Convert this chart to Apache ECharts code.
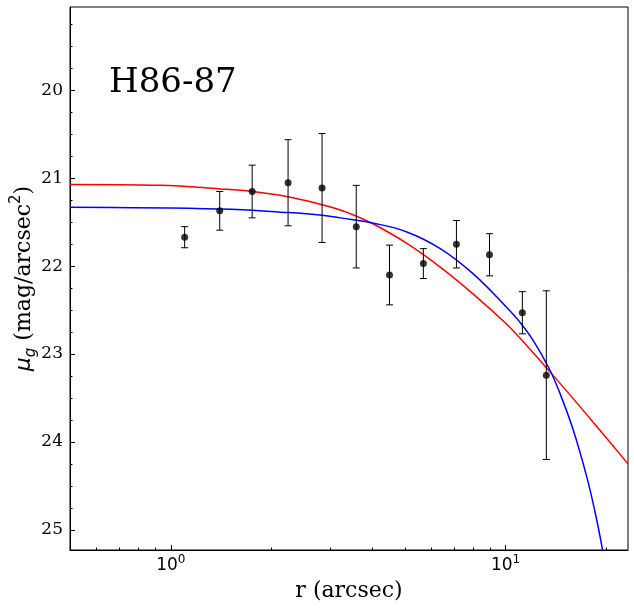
<!DOCTYPE html>
<html>
<head>
<meta charset="utf-8">
<script src="https://cdn.jsdelivr.net/npm/echarts@6/dist/echarts.min.js"></script>
<style>
  html, body { margin: 0; padding: 0; background: #fff; }
  #chart { width: 634px; height: 608px; }
</style>
</head>
<body>
<div id="chart"></div>
<script>
// measured profile points
var radius = [1.10, 1.40, 1.75, 2.24, 2.83, 3.58, 4.50, 5.68, 7.13, 8.95, 11.22, 13.23];
var mu = [21.67, 21.37, 21.15, 21.05, 21.11, 21.55, 22.10, 21.97, 21.75, 21.87, 22.53, 23.24];
var muErr = [0.12, 0.22, 0.30, 0.49, 0.62, 0.47, 0.34, 0.17, 0.27, 0.24, 0.24, 0.96];

// red model curve
var redR = [0.50, 0.93, 1.40, 1.75, 2.24, 2.83, 3.21, 3.58, 4.03, 5.07, 6.38, 8.02, 10.08, 11.05, 13.27, 15.94, 19.15, 23.2];
var redMu = [21.07, 21.08, 21.12, 21.15, 21.21, 21.30, 21.36, 21.43, 21.52, 21.74, 22.01, 22.32, 22.66, 22.82, 23.16, 23.51, 23.87, 24.25];

// blue model curve
var blueR = [0.50, 1.40, 2.24, 2.83, 3.21, 4.03, 5.07, 6.38, 8.02, 10.08, 11.05, 12.11, 13.51, 14.54, 15.94, 17.48, 18.50, 19.41, 19.82];
var blueMu = [21.33, 21.35, 21.39, 21.42, 21.45, 21.51, 21.61, 21.80, 22.09, 22.47, 22.64, 22.85, 23.17, 23.45, 23.87, 24.40, 24.80, 25.20, 25.45];

// ticks
var xMajor = [1, 10];
var xMinor = [0.6, 0.7, 0.8, 0.9, 2, 3, 4, 5, 6, 7, 8, 9, 20];
var yMajor = [20, 21, 22, 23, 24, 25];
var yMinor = [19.25, 19.5, 19.75, 20.25, 20.5, 20.75, 21.25, 21.5, 21.75, 22.25, 22.5, 22.75,
  23.25, 23.5, 23.75, 24.25, 24.5, 24.75];

function zip(a, b) {
  return a.map(function(v, i) { return [v, b[i]]; });
}

var myChart = echarts.init(document.getElementById("chart"));

var serif = "DejaVu Serif";

var option = {
  animation: false,
  grid: {
    left: 70,
    right: 6,
    top: 7,
    bottom: 58,
    outerBoundsMode: "none",
    containLabel: false,
    show: true,
    borderColor: "#000",
    borderWidth: 1,
    backgroundColor: "transparent"
  },
  graphic: [
    {
      type: "text",
      left: 109,
      top: 66,
      style: {
        text: "H86-87",
        font: "34px 'DejaVu Serif'",
        fill: "#000"
      }
    }
  ],
  xAxis: [
    {
      type: "log",
      logBase: 10,
      min: 0.5,
      max: 23.2,
      name: "r (arcsec)",
      nameLocation: "middle",
      nameGap: 30,
      nameMoveOverlap: false,
      nameTextStyle: { fontFamily: serif, fontSize: 22, color: "#000" },
      axisLine: { lineStyle: { color: "#000", width: 1 } },
      axisTick: { inside: true, length: 5, customValues: xMajor, lineStyle: { color: "#000" } },
      axisLabel: {
        customValues: xMajor,
        margin: 4,
        formatter: function(v) {
          return "{b|10}{s|" + Math.round(Math.log10(v)) + "}";
        },
        rich: {
          b: { fontFamily: "DejaVu Sans", fontSize: 17, lineHeight: 24, color: "#000" },
          s: { fontFamily: "DejaVu Sans", fontSize: 12, lineHeight: 12, verticalAlign: "top", color: "#000" }
        }
      },
      splitLine: { show: false }
    },
    {
      type: "log",
      logBase: 10,
      min: 0.5,
      max: 23.2,
      position: "bottom",
      axisLine: { show: false },
      axisTick: { inside: true, length: 2.5, customValues: xMinor, lineStyle: { color: "#000" } },
      axisLabel: { show: false },
      splitLine: { show: false }
    }
  ],
  yAxis: [
    {
      type: "value",
      inverse: true,
      min: 19.05,
      max: 25.23,
      name: "{it|μ}{sub|g} (mag/arcsec{sup|2})",
      nameLocation: "middle",
      nameGap: 31,
      nameMoveOverlap: false,
      nameTextStyle: {
        fontFamily: serif,
        fontSize: 22,
        color: "#000",
        rich: {
          it: { fontFamily: "DejaVu Sans", fontStyle: "italic", fontSize: 22, lineHeight: 30, color: "#000" },
          sub: { fontFamily: "DejaVu Sans", fontStyle: "italic", fontSize: 15, lineHeight: 15, verticalAlign: "bottom", color: "#000" },
          sup: { fontFamily: "DejaVu Sans", fontSize: 15, lineHeight: 15, verticalAlign: "top", color: "#000" }
        }
      },
      axisLine: { lineStyle: { color: "#000", width: 1 } },
      axisTick: { inside: true, length: 5, customValues: yMajor, lineStyle: { color: "#000" } },
      axisLabel: {
        customValues: yMajor,
        margin: 7,
        fontFamily: serif,
        fontSize: 17,
        color: "#000"
      },
      splitLine: { show: false }
    },
    {
      type: "value",
      inverse: true,
      min: 19.05,
      max: 25.23,
      position: "left",
      axisLine: { show: false },
      axisTick: { inside: true, length: 2.5, customValues: yMinor, lineStyle: { color: "#000" } },
      axisLabel: { show: false },
      splitLine: { show: false }
    }
  ],
  series: [
    {
      name: "red",
      type: "line",
      data: zip(redR, redMu),
      smooth: 0.4,
      showSymbol: false,
      lineStyle: { color: "#ff0000", width: 1.5 },
      z: 3
    },
    {
      name: "blue",
      type: "line",
      data: zip(blueR, blueMu),
      smooth: 0.4,
      showSymbol: false,
      lineStyle: { color: "#0000ff", width: 1.5 },
      z: 3
    },
    {
      name: "errors",
      type: "custom",
      data: radius.map(function(r, i) { return [r, mu[i], muErr[i]]; }),
      renderItem: function(params, api) {
        var r = api.value(0);
        var m = api.value(1);
        var e = api.value(2);
        var top = api.coord([r, m - e]);
        var bot = api.coord([r, m + e]);
        var w = 3.5;
        var st = { stroke: "#000", lineWidth: 1 };
        return {
          type: "group",
          children: [
            { type: "line", shape: { x1: top[0], y1: top[1], x2: bot[0], y2: bot[1] }, style: st },
            { type: "line", shape: { x1: top[0] - w, y1: top[1], x2: top[0] + w, y2: top[1] }, style: st },
            { type: "line", shape: { x1: bot[0] - w, y1: bot[1], x2: bot[0] + w, y2: bot[1] }, style: st }
          ]
        };
      },
      z: 4
    },
    {
      name: "points",
      type: "scatter",
      data: zip(radius, mu),
      symbolSize: 7,
      itemStyle: { color: "#000" },
      z: 5
    }
  ]
};

myChart.setOption(option);
window.addEventListener("resize", function() {
  myChart.resize();
});
</script>
</body>
</html>
